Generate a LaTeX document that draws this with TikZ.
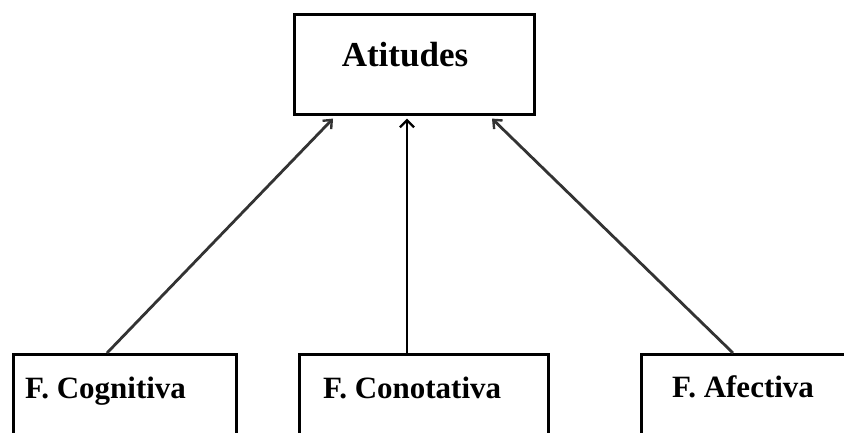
\documentclass[tikz,border=0pt]{standalone}
\usepackage{fontspec}
\setmainfont{Liberation Serif}
\usetikzlibrary{arrows.meta,calc}
\begin{document}
\begin{tikzpicture}[x=1pt,y=-1pt,
  boxstyle/.style={draw=black,line width=2.6pt,rectangle,inner sep=0pt,anchor=north west},
  toptext/.style={font=\bfseries\fontsize{35}{40}\selectfont,inner sep=0pt},
  bottext/.style={font=\bfseries\fontsize{31}{36}\selectfont,inner sep=0pt,anchor=base west},
  diagarrow/.style={draw=black!80,line width=2.8pt,-{Straight Barb[length=7pt,width=12pt,line width=2.4pt]}},
  vertarrow/.style={draw=black,line width=1.4pt,-{Straight Barb[length=7pt,width=14pt,line width=2.4pt]}}]
\clip (0,0) rectangle (844,433);
\fill[white] (0,0) rectangle (844,433);
\node[boxstyle,minimum width=240pt,minimum height=100pt] (att) at (293,13) {};
\node[toptext] (atttext) at (405,55) {Atitudes};
\node[boxstyle,minimum width=223pt,minimum height=100pt] (cog) at (12,353) {};
\node[boxstyle,minimum width=249pt,minimum height=100pt] (con) at (298,353) {};
\node[boxstyle,minimum width=230pt,minimum height=100pt] (afe) at (640,353) {};
\node[bottext] (cogtext) at (25,398) {F. Cognitiva};
\node[bottext] (context) at (323,398) {F. Conotativa};
\node[bottext] (afetext) at (672,397) {F. Afectiva};
\draw[diagarrow] ($(cog.north west)+(95,0)$) -- ($(att.south west)+(40,3)$);
\draw[vertarrow] ($(con.north west)+(109,0)$) -- ($(att.south west)+(114,3)$);
\draw[diagarrow] ($(afe.north west)+(93,0)$) -- ($(att.south west)+(199,3)$);
\end{tikzpicture}
\end{document}
